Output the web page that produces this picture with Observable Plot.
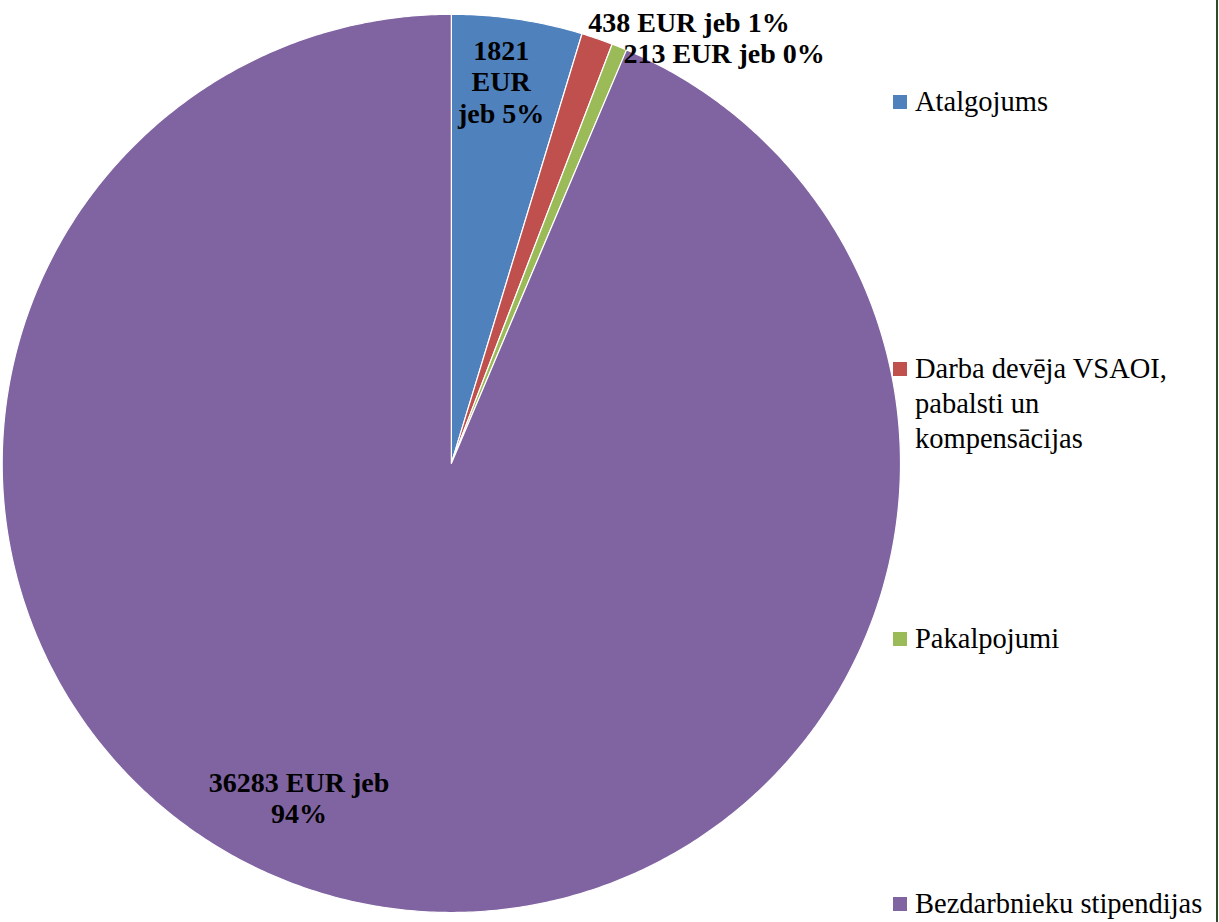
<!DOCTYPE html>
<html>
<head>
<meta charset="utf-8">
<script src="https://cdn.jsdelivr.net/npm/d3@7"></script>
<script src="https://cdn.jsdelivr.net/npm/@observablehq/plot@0.6"></script>
<style>
  html, body { margin: 0; padding: 0; background: #ffffff; }
  #wrap { position: relative; width: 1219px; height: 922px; overflow: hidden; background: #ffffff; }
  #wrap svg { position: absolute; left: 0; top: 0; }
  .leg { position: absolute; left: 893px; font-family: "Liberation Serif", "Times New Roman", serif; font-size: 28.5px; line-height: 35px; color: #000; white-space: nowrap; }
  .leg .sw { position: absolute; left: 0; top: 11px; width: 14px; height: 14px; }
  .leg .tx { position: absolute; left: 22px; top: 0; }
  #edge { position: absolute; left: 1216px; top: 0; width: 2px; height: 922px; background: #2f4a26; }
</style>
</head>
<body>
<div id="wrap"></div>
<script>
// ---- data ----
const categories = ["Atalgojums", "Darba devēja VSAOI, pabalsti un kompensācijas", "Pakalpojumi", "Bezdarbnieku stipendijas"];
const values = [1821, 438, 213, 36283];
const percents = ["5%", "1%", "0%", "94%"];
const colors = ["#4F81BD", "#C0504D", "#9BBB59", "#8064A2"];
const legendLines = [["Atalgojums"], ["Darba devēja VSAOI,", "pabalsti un", "kompensācijas"], ["Pakalpojumi"], ["Bezdarbnieku stipendijas"]];

// ---- derived ----
const rows = categories.map((c, i) => ({category: c, value: values[i], pct: percents[i]}));
const arcs = d3.pie().sort(null).value(d => d.value)(rows);
const slicePoints = arcs.flatMap(a => {
  const pts = [{category: a.data.category, x: 0, y: 0}];
  const n = Math.max(2, Math.ceil((a.endAngle - a.startAngle) / (Math.PI / 360)));
  for (let k = 0; k <= n; k++) {
    const t = a.startAngle + (a.endAngle - a.startAngle) * k / n;
    pts.push({category: a.data.category, x: Math.sin(t), y: Math.cos(t)});
  }
  return pts;
});
const labelRows = arcs.map(a => ({...a.data, mid: (a.startAngle + a.endAngle) / 2}));
const pick = i => labelRows.filter(d => d.category === categories[i]);
const font = {fontFamily: "Liberation Serif, Times New Roman, serif", fontWeight: "bold", fontSize: 28, lineHeight: 1.13, fill: "#000"};

const chart = Plot.plot({
  width: 1219,
  height: 922,
  marginLeft: 1.7,
  marginRight: 319,
  marginTop: 13.8,
  marginBottom: 10,
  x: {domain: [-1, 1], axis: null},
  y: {domain: [-1, 1], axis: null},
  color: {domain: categories, range: colors},
  style: {background: "transparent", overflow: "visible"},
  marks: [
    Plot.line(slicePoints, {x: "x", y: "y", z: "category", fill: "category", stroke: "#ffffff", strokeWidth: 1.2, curve: "linear-closed"}),
    Plot.text(pick(0), {x: d => 0.86 * Math.sin(d.mid), y: d => 0.86 * Math.cos(d.mid), text: d => `${d.value}\nEUR\njeb ${d.pct}`, dx: -7, dy: 0, ...font}),
    Plot.text(pick(1), {x: d => Math.sin(d.mid), y: d => Math.cos(d.mid), text: d => `${d.value} EUR jeb ${d.pct}`, textAnchor: "start", dx: -9, dy: -17, ...font}),
    Plot.text(pick(2), {x: d => Math.sin(d.mid), y: d => Math.cos(d.mid), text: d => `${d.value} EUR jeb ${d.pct}`, textAnchor: "start", dx: 4, dy: 6, ...font}),
    Plot.text(pick(3), {x: d => 0.82 * Math.sin(d.mid), y: d => 0.82 * Math.cos(d.mid), text: d => `${d.value} EUR jeb\n${d.pct}`, dx: -79, dy: -27, ...font})
  ]
});

const wrap = document.getElementById("wrap");
wrap.appendChild(chart);

// legend (HTML, beside the SVG)
const legendTops = [84, 351, 621, 886];
categories.forEach((c, i) => {
  const item = document.createElement("div");
  item.className = "leg";
  item.style.top = legendTops[i] + "px";
  const sw = document.createElement("div");
  sw.className = "sw";
  sw.style.background = colors[i];
  const tx = document.createElement("div");
  tx.className = "tx";
  tx.innerHTML = legendLines[i].join("<br>");
  item.appendChild(sw);
  item.appendChild(tx);
  wrap.appendChild(item);
});
const edge = document.createElement("div");
edge.id = "edge";
wrap.appendChild(edge);
</script>
</body>
</html>
